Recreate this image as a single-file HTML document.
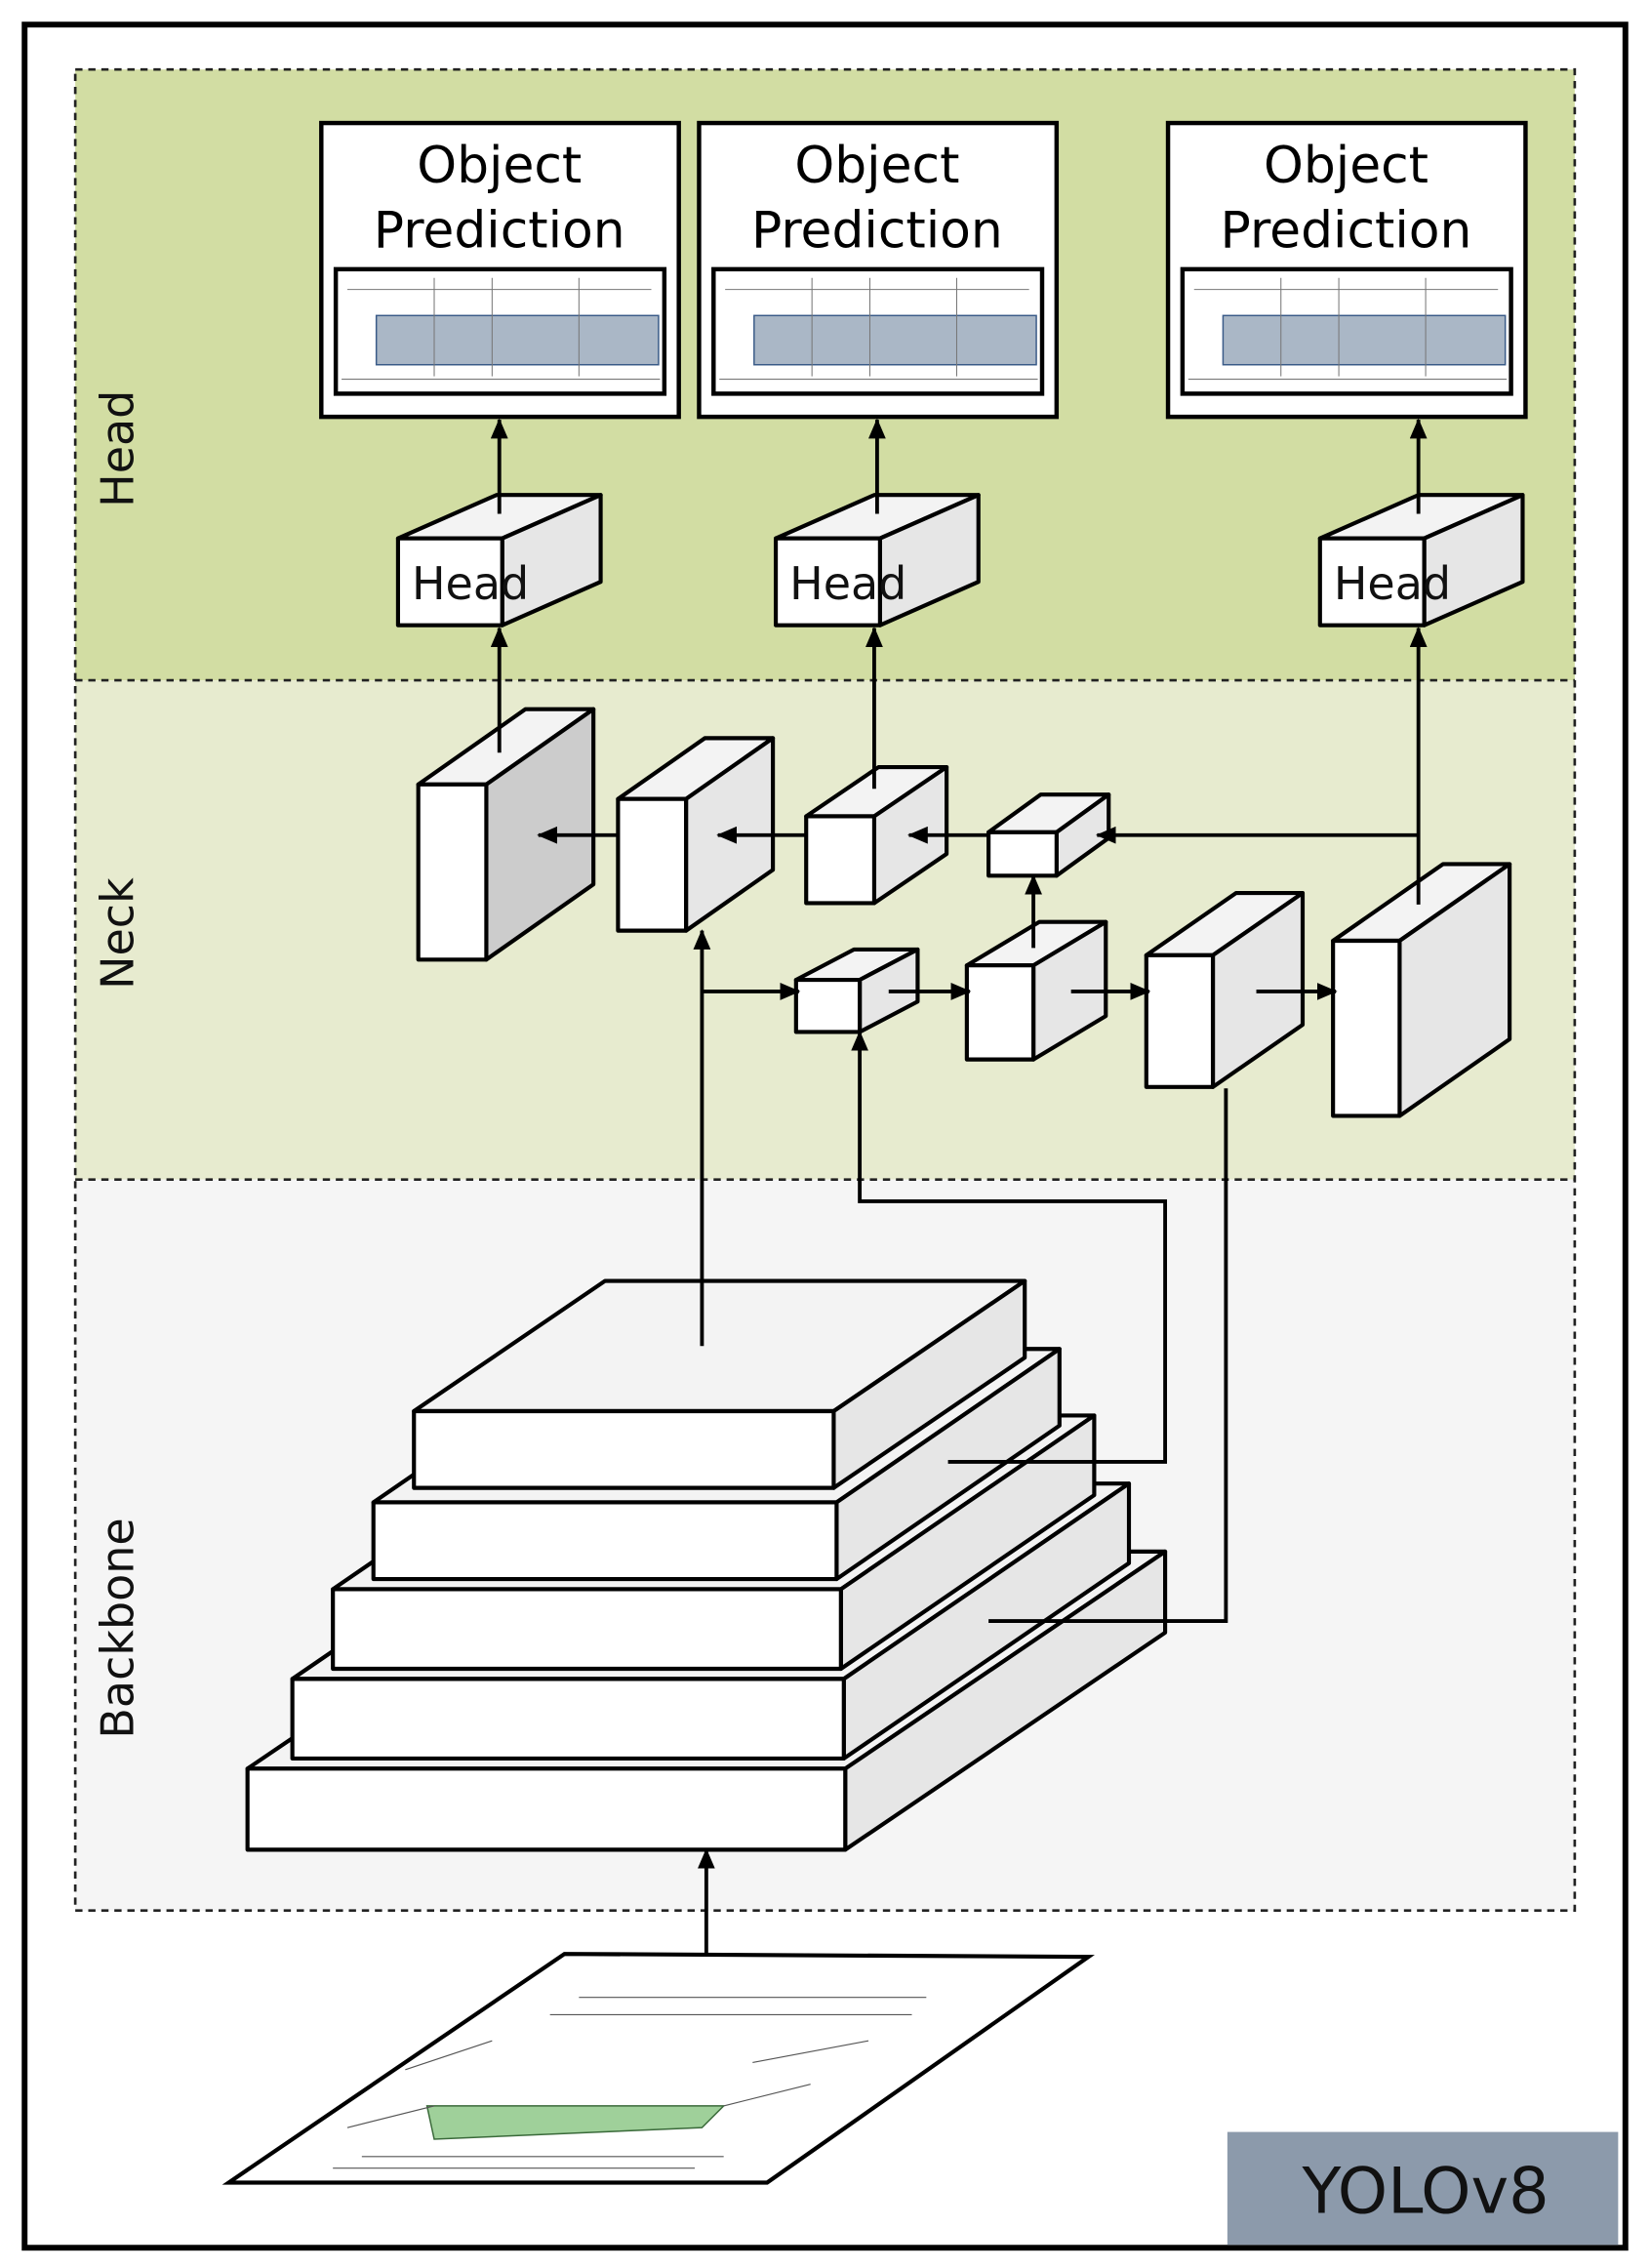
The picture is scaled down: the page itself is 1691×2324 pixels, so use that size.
<!DOCTYPE html>
<html><head><meta charset="utf-8"><style>html,body{margin:0;padding:0;background:#fff}svg{display:block}</style></head><body>
<svg width="1691" height="2324" viewBox="0 0 1140 1567" preserveAspectRatio="none" xmlns="http://www.w3.org/2000/svg" font-family="'DejaVu Sans','Liberation Sans',sans-serif">
<defs><marker id="a" markerWidth="14" markerHeight="12" refX="13" refY="6" orient="auto" markerUnits="userSpaceOnUse"><path d="M0,0 L14,6 L0,12 z" fill="#000"/></marker></defs>
<rect x="0" y="0" width="1140" height="1567" fill="#fff"/>
<rect x="17" y="17" width="1106" height="1536" fill="#fff" stroke="#000" stroke-width="4"/>
<rect x="52" y="48" width="1036" height="422" fill="#d2dda3"/>
<rect x="52" y="470" width="1036" height="345" fill="#e7ebcf"/>
<rect x="52" y="815" width="1036" height="505" fill="#f5f5f5"/>
<g fill="none" stroke="#222" stroke-width="1.8" stroke-dasharray="5,4">
<rect x="52" y="48" width="1036" height="1272"/><line x1="52" y1="470" x2="1088" y2="470"/><line x1="52" y1="815" x2="1088" y2="815"/></g>
<g font-size="31" fill="#111" text-anchor="middle">
<text transform="translate(92,310) rotate(-90)">Head</text>
<text transform="translate(92,645) rotate(-90)">Neck</text>
<text transform="translate(92,1125) rotate(-90)">Backbone</text></g>
<g id="pb">
<rect x="222" y="85" width="247" height="203" fill="#fff" stroke="#000" stroke-width="3"/>
<text x="345" y="126" font-size="35" text-anchor="middle">Object</text>
<text x="345" y="171" font-size="35" text-anchor="middle">Prediction</text>
<rect x="232" y="186" width="227" height="86" fill="#fff" stroke="#000" stroke-width="3"/>
<rect x="260" y="218" width="195" height="34" fill="#aab7c6" stroke="#3a5b88" stroke-width="1"/>
<g stroke="#777" stroke-width="0.7"><line x1="236" y1="262" x2="456" y2="262"/><line x1="240" y1="200" x2="450" y2="200"/><line x1="300" y1="192" x2="300" y2="260"/><line x1="340" y1="192" x2="340" y2="260"/><line x1="400" y1="192" x2="400" y2="260"/></g>
</g>
<use href="#pb" x="261"/><use href="#pb" x="585"/>
<g id="hc" stroke="#000" stroke-width="2.8" stroke-linejoin="round">
<polygon points="275,372 347,372 415,342 343,342" fill="#f3f3f3"/>
<polygon points="347,372 415,342 415,402 347,432" fill="#e6e6e6"/>
<rect x="275" y="372" width="72" height="60" fill="#fff"/>
<text x="325" y="414" font-size="31" text-anchor="middle" stroke="none" fill="#111">Head</text></g>
<use href="#hc" x="261"/><use href="#hc" x="637"/>
<g stroke="#000" stroke-width="2.6" fill="none">
<line x1="345" y1="355" x2="345" y2="290" marker-end="url(#a)"/>
<line x1="606" y1="355" x2="606" y2="290" marker-end="url(#a)"/>
<line x1="980" y1="355" x2="980" y2="290" marker-end="url(#a)"/>
</g>
<g stroke="#000" stroke-width="2.8" stroke-linejoin="round">
<polygon points="289,542 336,542 410,490 363,490" fill="#f3f3f3"/><polygon points="336,542 410,490 410,611 336,663" fill="#cccccc"/><rect x="289" y="542" width="47" height="121" fill="#fff"/>
<polygon points="427,552 474,552 534,510 487,510" fill="#f3f3f3"/><polygon points="474,552 534,510 534,601 474,643" fill="#e6e6e6"/><rect x="427" y="552" width="47" height="91" fill="#fff"/>
<polygon points="557,564 604,564 654,530 607,530" fill="#f3f3f3"/><polygon points="604,564 654,530 654,590 604,624" fill="#e6e6e6"/><rect x="557" y="564" width="47" height="60" fill="#fff"/>
<polygon points="683,575 730,575 766,549 719,549" fill="#f3f3f3"/><polygon points="730,575 766,549 766,579 730,605" fill="#e6e6e6"/><rect x="683" y="575" width="47" height="30" fill="#fff"/>
<polygon points="550,677 594,677 634,656 590,656" fill="#f3f3f3"/><polygon points="594,677 634,656 634,692 594,713" fill="#e6e6e6"/><rect x="550" y="677" width="44" height="36" fill="#fff"/>
<polygon points="668,667 714,667 764,637 718,637" fill="#f3f3f3"/><polygon points="714,667 764,637 764,702 714,732" fill="#e6e6e6"/><rect x="668" y="667" width="46" height="65" fill="#fff"/>
<polygon points="792,660 838,660 900,617 854,617" fill="#f3f3f3"/><polygon points="838,660 900,617 900,708 838,751" fill="#e6e6e6"/><rect x="792" y="660" width="46" height="91" fill="#fff"/>
<polygon points="921,650 967,650 1043,597 997,597" fill="#f3f3f3"/><polygon points="967,650 1043,597 1043,718 967,771" fill="#e6e6e6"/><rect x="921" y="650" width="46" height="121" fill="#fff"/>
</g>
<g stroke="#000" stroke-width="2.8" stroke-linejoin="round">
<polygon points="171,1222 584,1222 805,1072 392,1072" fill="#f3f3f3"/><polygon points="584,1222 805,1072 805,1128 584,1278" fill="#e6e6e6"/><rect x="171" y="1222" width="413" height="56" fill="#fff"/>
<polygon points="202,1160 583,1160 780,1025 399,1025" fill="#f3f3f3"/><polygon points="583,1160 780,1025 780,1080 583,1215" fill="#e6e6e6"/><rect x="202" y="1160" width="381" height="55" fill="#fff"/>
<polygon points="230,1098 581,1098 756,978 405,978" fill="#f3f3f3"/><polygon points="581,1098 756,978 756,1033 581,1153" fill="#e6e6e6"/><rect x="230" y="1098" width="351" height="55" fill="#fff"/>
<polygon points="258,1038 578,1038 732,932 412,932" fill="#f3f3f3"/><polygon points="578,1038 732,932 732,985 578,1091" fill="#e6e6e6"/><rect x="258" y="1038" width="320" height="53" fill="#fff"/>
<polygon points="286,975 576,975 708,885 418,885" fill="#f3f3f3"/><polygon points="576,975 708,885 708,938 576,1028" fill="#e6e6e6"/><rect x="286" y="975" width="290" height="53" fill="#fff"/>
</g>
<g stroke="#000" stroke-width="2.6" fill="none">
<line x1="345" y1="520" x2="345" y2="434" marker-end="url(#a)"/>
<line x1="604" y1="545" x2="604" y2="434" marker-end="url(#a)"/>
<line x1="980" y1="625" x2="980" y2="434" marker-end="url(#a)"/>
<line x1="980" y1="577" x2="758" y2="577" marker-end="url(#a)"/>
<line x1="683" y1="577" x2="628" y2="577" marker-end="url(#a)"/>
<line x1="557" y1="577" x2="496" y2="577" marker-end="url(#a)"/>
<line x1="427" y1="577" x2="372" y2="577" marker-end="url(#a)"/>
<line x1="714" y1="655" x2="714" y2="605" marker-end="url(#a)"/>
<line x1="485" y1="930" x2="485" y2="643" marker-end="url(#a)"/>
<line x1="485" y1="685" x2="552" y2="685" marker-end="url(#a)"/>
<line x1="614" y1="685" x2="670" y2="685" marker-end="url(#a)"/>
<line x1="740" y1="685" x2="794" y2="685" marker-end="url(#a)"/>
<line x1="868" y1="685" x2="923" y2="685" marker-end="url(#a)"/>
<polyline points="655,1010 805,1010 805,830 594,830 594,713" marker-end="url(#a)"/>
<polyline points="683,1120 847,1120 847,752"/>
<line x1="488" y1="1415" x2="488" y2="1278" marker-end="url(#a)"/>
</g>
<polygon points="390,1350 752,1352 530,1508 158,1508" fill="#fff" stroke="#000" stroke-width="2.8"/>
<polygon points="295,1455 500,1455 485,1470 300,1478" fill="#9fd09a" stroke="#3a6a3a" stroke-width="1"/>
<g stroke="#555" stroke-width="0.8" fill="none">
<line x1="400" y1="1380" x2="640" y2="1380"/><line x1="380" y1="1392" x2="630" y2="1392"/>
<line x1="250" y1="1490" x2="500" y2="1490"/><line x1="230" y1="1498" x2="480" y2="1498"/>
<line x1="280" y1="1430" x2="340" y2="1410"/><line x1="520" y1="1425" x2="600" y2="1410"/>
<line x1="240" y1="1470" x2="300" y2="1455"/><line x1="500" y1="1455" x2="560" y2="1440"/>
</g>
<rect x="848" y="1473" width="270" height="78" fill="#8c9aab"/>
<text x="985" y="1529" font-size="44" text-anchor="middle" fill="#111">YOLOv8</text>
</svg>
</body></html>
